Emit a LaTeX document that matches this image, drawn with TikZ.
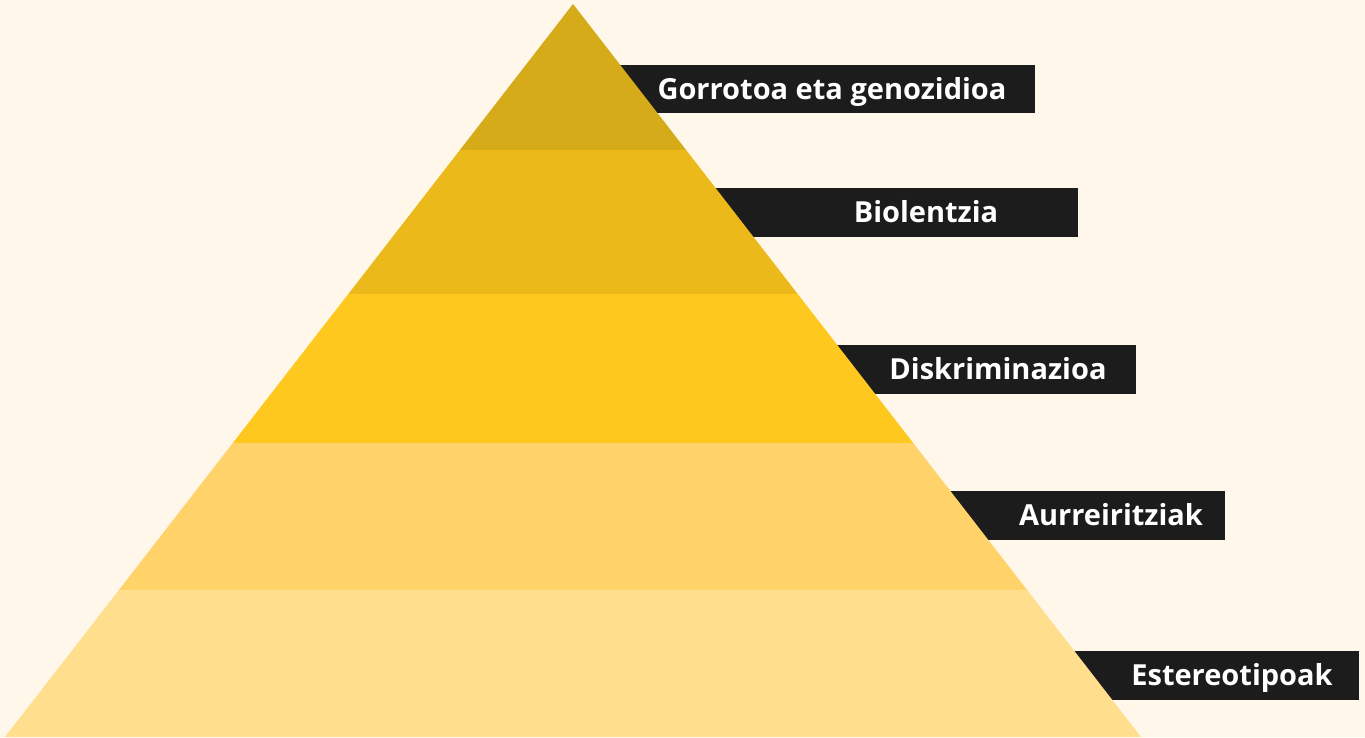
\documentclass[tikz,border=0pt]{standalone}
\usepackage{fontspec}
\setmainfont{Open Sans}
\usetikzlibrary{positioning}

\definecolor{cream}{HTML}{FFF7E9}
\definecolor{tierone}{HTML}{D6AB1A}
\definecolor{tiertwo}{HTML}{EBBA1A}
\definecolor{tierthree}{HTML}{FFC81E}
\definecolor{tierfour}{HTML}{FFD26A}
\definecolor{tierfive}{HTML}{FFDE8E}
\definecolor{tagblack}{HTML}{1C1C1C}

\begin{document}
\begin{tikzpicture}[x=1pt,y=-1pt]
    \tikzstyle{tag} = [fill=tagblack]
    \tikzstyle{taglabel} = [text=white, anchor=base, inner sep=0pt, font=\bfseries\fontsize{29}{35}\selectfont]

    % Background
    \fill[cream] (0,0) rectangle (1365,737);
    \useasboundingbox (0,0) rectangle (1365,737);

    % Label bars (their left ends hide behind the pyramid)
    \fill[tag] (600,65) rectangle (1035,113);
    \fill[tag] (700,188) rectangle (1078,237);
    \fill[tag] (820,345) rectangle (1136,394);
    \fill[tag] (930,491) rectangle (1225,540);
    \fill[tag] (1060,651) rectangle (1359,700);

    % Pyramid tiers
    \fill[tierone] (573,4) -- (686.1,150) -- (459.9,150) -- cycle;
    \fill[tiertwo] (459.9,150) -- (686.1,150) -- (797.7,294) -- (348.3,294) -- cycle;
    \fill[tierthree] (348.3,294) -- (797.7,294) -- (913.2,443) -- (232.8,443) -- cycle;
    \fill[tierfour] (232.8,443) -- (913.2,443) -- (1027.1,590) -- (118.9,590) -- cycle;
    \fill[tierfive] (118.9,590) -- (1027.1,590) -- (1141,737) -- (5,737) -- cycle;

    % Labels
    \node[taglabel] (hate) at (832,99) {Gorrotoa eta genozidioa};
    \node[taglabel] (violence) at (926,222) {Biolentzia};
    \node[taglabel] (discrim) at (998,379) {Diskriminazioa};
    \node[taglabel] (prejud) at (1111,525) {Aurreiritziak};
    \node[taglabel] (stereo) at (1232,685) {Estereotipoak};
\end{tikzpicture}
\end{document}
